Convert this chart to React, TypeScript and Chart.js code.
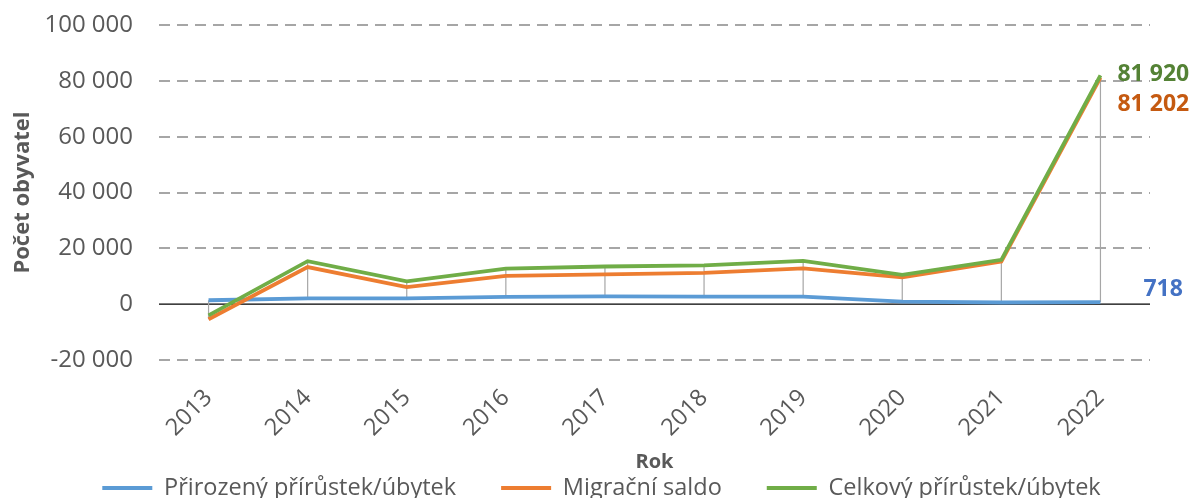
import { useEffect, useRef } from "react";
import { Chart, registerables } from "chart.js";

Chart.register(...registerables);

const years = ["2013", "2014", "2015", "2016", "2017", "2018", "2019", "2020", "2021", "2022"];
const naturalChange = [1400, 2100, 2100, 2600, 2800, 2700, 2700, 900, 600, 718];
const migrationBalance = [-5400, 13300, 6100, 10100, 10700, 11200, 12800, 9600, 15300, 81202];
const totalChange = [-4000, 15400, 8200, 12700, 13500, 13900, 15500, 10500, 15900, 81920];
const seriesNames = ["Přirozený přírůstek/úbytek", "Migrační saldo", "Celkový přírůstek/úbytek"];
const yTicksMin = -20000;
const yTicksMax = 100000;
const yTickStep = 20000;

const lineColors = ["#5B9BD5", "#ED7D31", "#70AD47"];
const labelColors = ["#4472C4", "#C55A11", "#548235"];
const labelOffsets = [
  { dx: 43, dy: -13 },
  { dx: 17, dy: 27 },
  { dx: 17, dy: -1 },
];
const FONT = "'Open Sans', 'Noto Sans', sans-serif";
const TEXT = "#595959";

const fmt = (v: number) => {
  const s = Math.abs(Math.round(v))
    .toString()
    .replace(/\B(?=(\d{3})+(?!\d))/g, " ");
  return (v < 0 ? "-" : "") + s;
};

const decorPlugin = {
  id: "decor",
  afterLayout(chart: any) {
    // let the rotated category labels use the room above the legend's item row
    const x = chart.scales.x;
    x.bottom = x.top + 110;
  },
  beforeDatasetsDraw(chart: any) {
    const { ctx, chartArea } = chart;
    const y = chart.scales.y;
    const metas = chart.data.datasets.map((_: any, i: number) => chart.getDatasetMeta(i));
    ctx.save();
    // zero line
    const y0 = y.getPixelForValue(0);
    ctx.strokeStyle = "#000000";
    ctx.lineWidth = 1.3;
    ctx.beginPath();
    ctx.moveTo(chartArea.left, y0);
    ctx.lineTo(chartArea.right, y0);
    ctx.stroke();
    // high-low (drop) lines
    ctx.strokeStyle = "#A6A6A6";
    ctx.lineWidth = 1.2;
    for (let i = 0; i < years.length; i++) {
      const ys = metas.map((m: any) => m.data[i].y);
      const x = metas[0].data[i].x;
      ctx.beginPath();
      ctx.moveTo(x, Math.min(...ys));
      ctx.lineTo(x, Math.max(...ys));
      ctx.stroke();
    }
    ctx.restore();
  },
  afterDatasetsDraw(chart: any) {
    const { ctx } = chart;
    ctx.save();
    ctx.font = `bold 23px ${FONT}`;
    ctx.textAlign = "left";
    ctx.textBaseline = "middle";
    chart.data.datasets.forEach((ds: any, i: number) => {
      const meta = chart.getDatasetMeta(i);
      const last = meta.data.length - 1;
      const pt = meta.data[last];
      ctx.fillStyle = labelColors[i];
      ctx.fillText(fmt(ds.data[last]), pt.x + labelOffsets[i].dx, pt.y + labelOffsets[i].dy);
    });
    ctx.restore();
  },
};

export default function App() {
  const ref = useRef<HTMLCanvasElement | null>(null);
  useEffect(() => {
    if (!ref.current) return;
    const series = [naturalChange, migrationBalance, totalChange];
    const chart = new Chart(ref.current, {
      type: "line",
      data: {
        labels: years,
        datasets: series.map((d, i) => ({
          label: seriesNames[i],
          data: d,
          borderColor: lineColors[i],
          backgroundColor: lineColors[i],
          borderWidth: 3.8,
          pointRadius: 0,
          tension: 0,
          order: 3 - i,
          yAxisID: "y",
        })),
      },
      options: {
        responsive: false,
        animation: false,
        layout: { padding: { top: 25, right: 0, left: 10, bottom: -11.75 } },
        plugins: {
          tooltip: { enabled: false },
          legend: {
            position: "bottom",
            labels: {
              usePointStyle: true,
              pointStyle: "line",
              pointStyleWidth: 50,
              padding: 45,
              color: TEXT,
              font: { family: FONT, size: 23.5 },
              sort: (a: any, b: any) => a.datasetIndex - b.datasetIndex,
            },
          },
        },
        scales: {
          x: {
            offset: true,
            grid: { display: false, drawTicks: false },
            border: { display: false },
            ticks: {
              color: TEXT,
              font: { family: FONT, size: 23.5 },
              minRotation: 45,
              maxRotation: 45,
              padding: 24,
            },
            title: {
              display: true,
              text: "Rok",
              color: TEXT,
              font: { family: FONT, size: 20, weight: "bold" },
              padding: { top: 0, bottom: -4 },
            },
            afterFit: (s: any) => {
              s.height = 71.25;
            },
          },
          y: {
            position: "left",
            min: yTicksMin,
            max: yTicksMax,
            grid: {
              drawTicks: false,
              color: (c: any) => (c.tick && c.tick.value === 0 ? "rgba(0,0,0,0)" : "#A6A6A6"),
              lineWidth: 2,
            },
            border: { display: false, dash: [11, 7] },
            ticks: {
              stepSize: yTickStep,
              color: TEXT,
              font: { family: FONT, size: 24 },
              padding: 26,
              callback: (v: any) => fmt(Number(v)),
            },
            title: {
              display: true,
              text: "Počet obyvatel",
              color: TEXT,
              font: { family: FONT, size: 22, weight: "bold" },
              padding: { top: 0, bottom: 0 },
            },
            afterFit: (s: any) => {
              s.width = 149;
              s.paddingTop = 0;
              s.paddingBottom = 0;
            },
          },
          yRight: {
            position: "right",
            display: true,
            grid: { display: false, drawTicks: false },
            border: { display: false },
            ticks: { display: false },
            afterFit: (s: any) => {
              s.width = 43;
              s.paddingTop = 0;
              s.paddingBottom = 0;
            },
          },
        },
      },
      plugins: [decorPlugin],
    });
    return () => chart.destroy();
  }, []);
  return (
    <canvas
      ref={ref}
      width={1193}
      height={498}
      style={{ position: "absolute", left: 0, top: 0, display: "block" }}
    />
  );
}
